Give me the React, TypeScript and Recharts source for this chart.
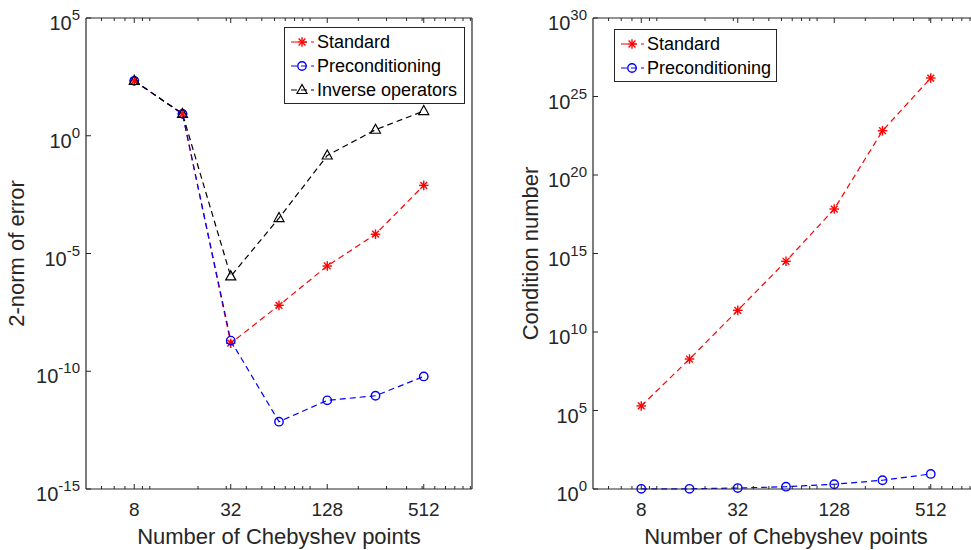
import React from 'react';
import { LineChart, Line, XAxis, YAxis, Legend, Label } from 'recharts';

const nPoints = [8, 16, 32, 64, 128, 256, 512];
const errStandard = [215, 8.5, 1.55e-9, 6.3e-8, 2.95e-6, 6.6e-5, 7.8e-3];
const errPrecond = [215, 8.5, 2.0e-9, 7.2e-13, 5.8e-12, 9.1e-12, 6.0e-11];
const errInverse = [215, 8.5, 1.07e-6, 3.2e-4, 0.145, 1.8, 11.2];
const condStandard = [1.95e5, 1.9e8, 2.4e11, 3.2e14, 6.8e17, 6.6e22, 1.5e26];
const condPrecond = [1.03, 1.03, 1.15, 1.4, 2.0, 3.6, 9.1];

const xMajor = [8, 32, 128, 512];
const xMinor = [5, 6, 7, 9, 10, 20, 30, 40, 50, 60, 70, 80, 90, 100, 200, 300, 400, 500, 600, 700, 800, 900, 1000];
const errTicks = [1e-15, 1e-10, 1e-5, 1, 1e5];
const condTicks = [1, 1e5, 1e10, 1e15, 1e20, 1e25, 1e30];

const AXIS = '#262626';
const FONT = '"Liberation Sans", Arial, Helvetica, sans-serif';
const xTicks = [...xMinor, ...xMajor].sort((a, b) => a - b);

const errData = nPoints.map((n, i) => ({ n, standard: errStandard[i], precond: errPrecond[i], inverse: errInverse[i] }));
const condData = nPoints.map((n, i) => ({ n, standard: condStandard[i], precond: condPrecond[i] }));

function Asterisk({ cx, cy, color }: any) {
  const r = 4.8;
  const d = r * 0.707;
  return (
    <g stroke={color} strokeWidth={1.4}>
      <line x1={cx - r} x2={cx + r} y1={cy} y2={cy} />
      <line x1={cx} x2={cx} y1={cy - r} y2={cy + r} />
      <line x1={cx - d} x2={cx + d} y1={cy - d} y2={cy + d} />
      <line x1={cx - d} x2={cx + d} y1={cy + d} y2={cy - d} />
    </g>
  );
}

function Ring({ cx, cy, color }: any) {
  return <circle cx={cx} cy={cy} r={4.2} fill="none" stroke={color} strokeWidth={1.4} />;
}

function Tri({ cx, cy, color }: any) {
  return <polygon points={`${cx},${cy - 5.5} ${cx - 5},${cy + 3.5} ${cx + 5},${cy + 3.5}`} fill="none" stroke={color} strokeWidth={1.2} />;
}

const markers: any = { star: Asterisk, ring: Ring, tri: Tri };

const errSeries = [
  { key: 'standard', name: 'Standard', color: '#ff0000', marker: 'star' },
  { key: 'precond', name: 'Preconditioning', color: '#0000ff', marker: 'ring' },
  { key: 'inverse', name: 'Inverse operators', color: '#000000', marker: 'tri' },
];
const condSeries = errSeries.slice(0, 2);

const expLabel = (v: number) => String(Math.round(Math.log10(v)));

const bottomTick = (props: any) => {
  const { x, y, payload } = props;
  const major = xMajor.includes(payload.value);
  return (
    <g>
      <line x1={x} x2={x} y1={y} y2={y - (major ? 5 : 3)} stroke={AXIS} />
      {major && (
        <text x={x} y={y + 27} textAnchor="middle" fontSize={19} fill={AXIS} fontFamily={FONT}>
          {payload.value}
        </text>
      )}
    </g>
  );
};

const topTick = (props: any) => {
  const { x, y, payload } = props;
  const major = xMajor.includes(payload.value);
  return <line x1={x} x2={x} y1={y} y2={y + (major ? 5 : 3)} stroke={AXIS} />;
};

const leftTick = (props: any) => {
  const { x, y, payload } = props;
  return (
    <g>
      <line x1={x} x2={x + 5} y1={y} y2={y} stroke={AXIS} />
      <text x={x - 6} y={y + 12} textAnchor="end" fontSize={20} fill={AXIS} fontFamily={FONT}>
        10<tspan dy={-10} fontSize={15}>{expLabel(payload.value)}</tspan>
      </text>
    </g>
  );
};

const rightTick = (props: any) => {
  const { x, y } = props;
  return <line x1={x} x2={x - 5} y1={y} y2={y} stroke={AXIS} />;
};

function LegendBox({ series, width }: any) {
  return (
    <div style={{ width, boxSizing: 'border-box', border: `1.3px solid ${AXIS}`, background: '#fff', paddingTop: 2, paddingBottom: 1, fontFamily: FONT }}>
      {series.map((s: any) => {
        const M = markers[s.marker];
        return (
          <div key={s.key} style={{ display: 'flex', alignItems: 'center', height: 24 }}>
            <svg width={32} height={24} style={{ flex: 'none' }}>
              <line x1={5} x2={29} y1={12} y2={12} stroke={s.color} strokeWidth={1.2} strokeDasharray="6 4" strokeDashoffset={-1} />
              <M cx={17} cy={12} color={s.color} />
            </svg>
            <span style={{ fontSize: 18, color: '#000', lineHeight: '24px', whiteSpace: 'nowrap' }}>{s.name}</span>
          </div>
        );
      })}
    </div>
  );
}

function Panel({ data, series, yDomain, yTicks, yTitle, margin, titleX, legendPos, legendWidth }: any) {
  return (
    <LineChart width={490} height={550} data={data} margin={margin}>
      <XAxis dataKey="n" type="number" scale="log" domain={[4, 1024]} ticks={xTicks} interval={0}
        height={1} tickSize={0} tickMargin={0} tickLine={false} axisLine={{ stroke: AXIS, strokeWidth: 1.2 }} tick={bottomTick}>
        <Label content={({ viewBox }: any) => (
          <text x={viewBox.x + viewBox.width / 2} y={viewBox.y + 55} textAnchor="middle" fontSize={22} fill={AXIS} fontFamily={FONT}>
            Number of Chebyshev points
          </text>
        )} />
      </XAxis>
      <XAxis xAxisId="top" orientation="top" dataKey="n" type="number" scale="log" domain={[4, 1024]} ticks={xTicks} interval={0}
        height={1} tickSize={0} tickMargin={0} tickLine={false} axisLine={{ stroke: AXIS, strokeWidth: 1.2 }} tick={topTick} />
      <YAxis type="number" scale="log" domain={yDomain} ticks={yTicks} interval={0}
        width={1} tickSize={0} tickMargin={0} tickLine={false} axisLine={{ stroke: AXIS, strokeWidth: 1.2 }} tick={leftTick}>
        <Label content={({ viewBox }: any) => {
          const cx = viewBox.x + viewBox.width - titleX;
          const cy = viewBox.y + viewBox.height / 2;
          return (
            <text x={cx} y={cy} transform={`rotate(-90, ${cx}, ${cy})`} textAnchor="middle" fontSize={22} fill={AXIS} fontFamily={FONT}>
              {yTitle}
            </text>
          );
        }} />
      </YAxis>
      <YAxis yAxisId="r" orientation="right" type="number" scale="log" domain={yDomain} ticks={yTicks} interval={0}
        width={1} tickSize={0} tickMargin={0} tickLine={false} axisLine={{ stroke: AXIS, strokeWidth: 1.2 }} tick={rightTick} />
      <Legend layout="vertical" align="center" verticalAlign="middle" wrapperStyle={{ ...legendPos, width: legendWidth }}
        content={() => <LegendBox series={series} width={legendWidth} />} />
      {series.map((s: any) => {
        const M = markers[s.marker];
        return (
          <Line key={s.key} dataKey={s.key} name={s.name} stroke={s.color} strokeWidth={1.2} strokeDasharray="6 4"
            isAnimationActive={false} activeDot={false}
            dot={(p: any) => <M key={`${s.key}-${p.index}`} cx={p.cx} cy={p.cy} color={s.color} />} />
        );
      })}
    </LineChart>
  );
}

export default function App() {
  return (
    <div style={{ position: 'absolute', left: 0, top: 0, width: 971, height: 550, overflow: 'hidden', background: '#fff', fontFamily: FONT }}>
      <div style={{ position: 'absolute', left: 0, top: 0 }}>
        <Panel data={errData} series={errSeries} yDomain={[1e-15, 1e5]} yTicks={errTicks} yTitle="2-norm of error"
          margin={{ top: 17, right: 17, bottom: 60, left: 85 }} titleX={62}
          legendPos={{ left: 284, top: 27 }} legendWidth={181} />
      </div>
      <div style={{ position: 'absolute', left: 490, top: 0 }}>
        <Panel data={condData} series={condSeries} yDomain={[1, 1e30]} yTicks={condTicks} yTitle="Condition number"
          margin={{ top: 17, right: 0, bottom: 60, left: 102 }} titleX={55}
          legendPos={{ left: 124, top: 29 }} legendWidth={163} />
      </div>
    </div>
  );
}
